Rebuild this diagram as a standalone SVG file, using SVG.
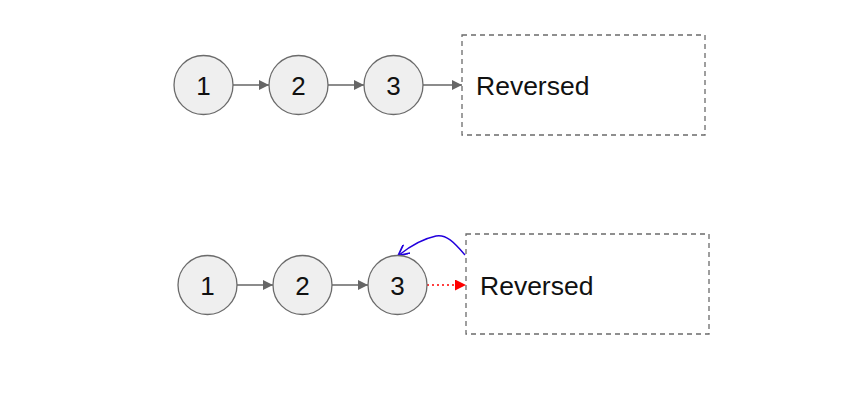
<svg xmlns="http://www.w3.org/2000/svg" width="862" height="403" viewBox="0 0 862 403">
<style>
.node circle{fill:#efefef;stroke:#6b6b6b;stroke-width:1.3}
.node text{font-family:"Liberation Sans",Arial,sans-serif;font-size:26px;fill:#111;text-anchor:middle}
.box rect{fill:none;stroke:#6b6b6b;stroke-width:1.3;stroke-dasharray:5,4}
.box text{font-family:"Liberation Sans",Arial,sans-serif;font-size:26.5px;fill:#111}
.edge{stroke:#666;stroke-width:1.3;fill:none}
</style>
<defs>
<marker id="ag" viewBox="0 0 10 10" refX="10" refY="5" markerWidth="13" markerHeight="10" markerUnits="userSpaceOnUse" orient="auto"><path d="M0,0L10,5L0,10z" fill="#666"/></marker>
<marker id="ar" viewBox="0 0 10 10" refX="10" refY="5" markerWidth="14" markerHeight="11" markerUnits="userSpaceOnUse" orient="auto"><path d="M0,0L10,5L0,10z" fill="#f00"/></marker>
<marker id="ab" viewBox="0 0 10 10" refX="9" refY="5" markerWidth="12" markerHeight="11" markerUnits="userSpaceOnUse" orient="auto"><path d="M0,0L10,5L0,10" fill="none" stroke="#2200dd" stroke-width="1.6"/></marker>
</defs>
<rect width="862" height="403" fill="#fff"/>
<g id="connectors">
<line class="edge" x1="233" y1="85" x2="269" y2="85" marker-end="url(#ag)"/>
<line class="edge" x1="328" y1="85" x2="364" y2="85" marker-end="url(#ag)"/>
<line class="edge" x1="423" y1="85" x2="462" y2="85" marker-end="url(#ag)"/>
<line class="edge" x1="237" y1="285" x2="273" y2="285" marker-end="url(#ag)"/>
<line class="edge" x1="332" y1="285" x2="368" y2="285" marker-end="url(#ag)"/>
<line x1="427" y1="285" x2="466" y2="285" stroke="#f00" stroke-width="1.3" stroke-dasharray="2,3" marker-end="url(#ar)"/>
<path d="M465,255 C454,242 446,234 436,236 C422,239 409,247 399,255" fill="none" stroke="#2200dd" stroke-width="1.4" marker-end="url(#ab)"/>
</g>
<g id="n1" class="node"><circle cx="203.5" cy="85" r="29.5"/><text x="203.5" y="94.5">1</text></g>
<g id="n2" class="node"><circle cx="298.5" cy="85" r="29.5"/><text x="298.5" y="94.5">2</text></g>
<g id="n3" class="node"><circle cx="393.5" cy="85" r="29.5"/><text x="393.5" y="94.5">3</text></g>
<g id="rev1" class="box"><rect x="462" y="35" width="243" height="100"/><text x="476" y="94.5">Reversed</text></g>
<g id="m1" class="node"><circle cx="207.5" cy="285" r="29.5"/><text x="207.5" y="294.5">1</text></g>
<g id="m2" class="node"><circle cx="302.5" cy="285" r="29.5"/><text x="302.5" y="294.5">2</text></g>
<g id="m3" class="node"><circle cx="397.5" cy="285" r="29.5"/><text x="397.5" y="294.5">3</text></g>
<g id="rev2" class="box"><rect x="466" y="234" width="243" height="100"/><text x="480" y="294.5">Reversed</text></g>
</svg>
